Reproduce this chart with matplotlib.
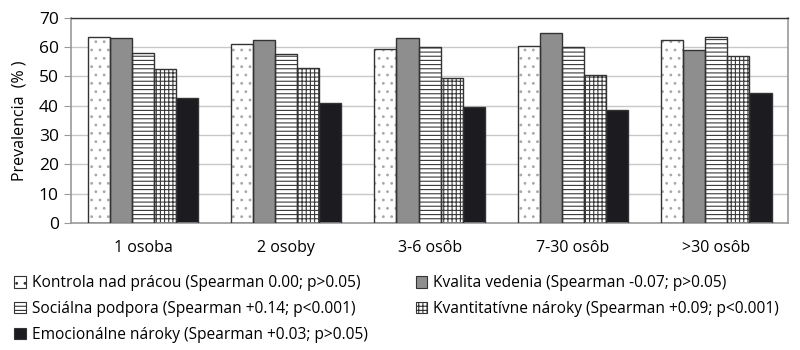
import matplotlib
matplotlib.use("Agg")
import matplotlib.pyplot as plt
import numpy as np
from matplotlib.patches import Patch

plt.rcParams['font.family'] = ['Open Sans', 'DejaVu Sans']
plt.rcParams['hatch.linewidth'] = 0.8

groups = ["1 osoba", "2 osoby", "3-6 osôb", "7-30 osôb", ">30 osôb"]
series_names = [
    "Kontrola nad prácou (Spearman 0.00; p>0.05)",
    "Kvalita vedenia (Spearman -0.07; p>0.05)",
    "Sociálna podpora (Spearman +0.14; p<0.001)",
    "Kvantitatívne nároky (Spearman +0.09; p<0.001)",
    "Emocionálne nároky (Spearman +0.03; p>0.05)",
]
kontrola = [63.5, 61.0, 59.5, 60.5, 62.5]
kvalita = [63.0, 62.5, 63.0, 65.0, 59.0]
socialna = [58.0, 57.5, 60.0, 60.0, 63.5]
kvantitativne = [52.5, 53.0, 49.5, 50.5, 57.0]
emocionalne = [42.5, 41.0, 39.5, 38.5, 44.5]

series = [kontrola, kvalita, socialna, kvantitativne, emocionalne]
# face, hatch, hatch colour
styles = [
    ("white", "..", "#a8a8a8"),
    ("#8e8e8e", "", "#8e8e8e"),
    ("white", "----", "#3a3a3a"),
    ("white", "++++", "#3a3a3a"),
    ("#1c1c20", "", "#1c1c20"),
]

fig = plt.figure(figsize=(8, 3.5), dpi=100)
ax = fig.add_axes([0.089, 0.363, 0.896, 0.586])

x = np.arange(len(groups))
w = 0.154
for i, (vals, (fc, h, hc)) in enumerate(zip(series, styles)):
    pos = x + (i - 2) * w
    ax.bar(pos, vals, w, color=fc, hatch=h, edgecolor=hc, linewidth=0, zorder=2)
    ax.bar(pos, vals, w, fill=False, edgecolor="#333333", linewidth=1.0, zorder=3)

ax.set_xlim(-0.5, len(groups) - 0.5)
ax.set_ylim(0, 70)
ax.set_yticks(range(0, 71, 10))
ax.set_xticks(x)
ax.set_xticklabels(groups, fontsize=11.5)
ax.tick_params(axis='y', labelsize=12.5, length=5, color="#999999", pad=4)
ax.tick_params(axis='x', length=0, pad=12)
ax.yaxis.grid(True, color="#c8c8c8", linewidth=1.0, zorder=0)
ax.set_axisbelow(True)
for s in ["left", "bottom", "right"]:
    ax.spines[s].set_color("#999999")
    ax.spines[s].set_linewidth(1.2)
ax.spines["top"].set_color("#333333")
ax.spines["top"].set_linewidth(1.0)
ax.set_ylabel("Prevalencia  (% )", fontsize=11.5, labelpad=8)

handles = []
for (fc, h, hc), name in zip(styles, series_names):
    handles.append(Patch(facecolor=fc, hatch=h, edgecolor="#333333", linewidth=0.8, label=name))
order = [0, 2, 4, 1, 3]
fig.legend([handles[k] for k in order], [series_names[k] for k in order],
           loc="upper left", bbox_to_anchor=(0.018, 0.213), ncol=2, frameon=False,
           fontsize=11.2, handlelength=0.75, handleheight=0.75, handletextpad=0.35,
           labelspacing=0.62, columnspacing=3.1, borderaxespad=0, borderpad=0)

fig.savefig("out.png", dpi=100)
